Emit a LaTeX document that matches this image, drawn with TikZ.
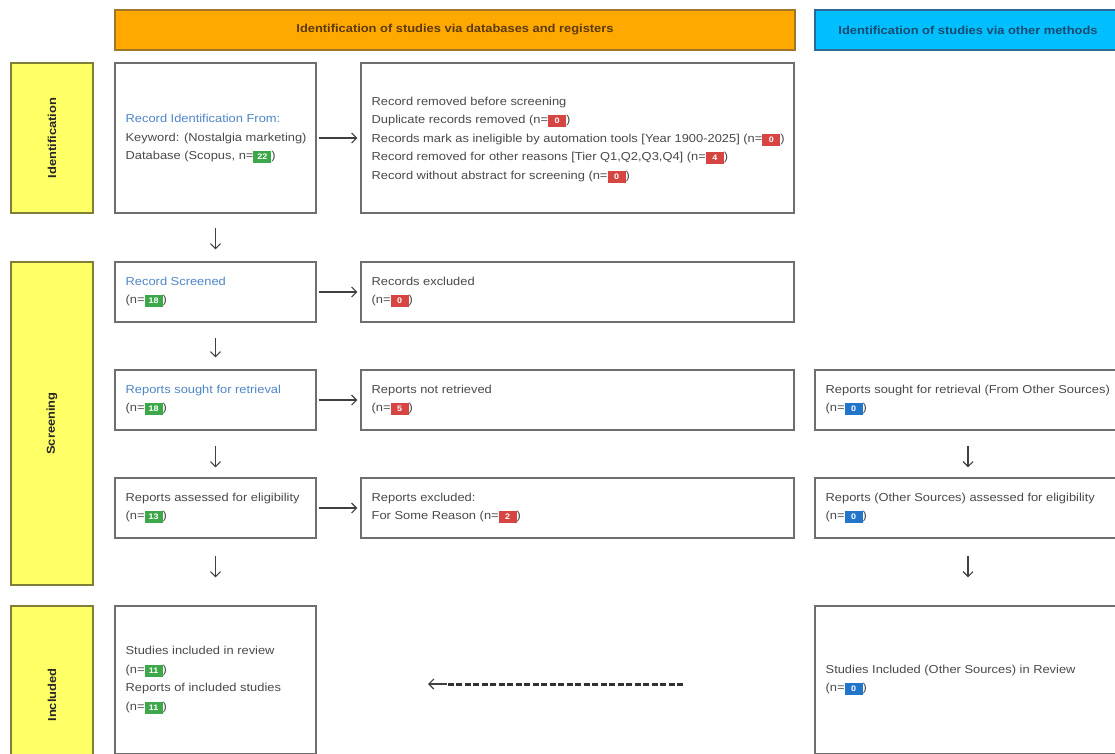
\documentclass[tikz,border=0pt]{standalone}
\usepackage{fontspec}
\setmainfont{Liberation Sans}[FakeStretch=1.12]
\usetikzlibrary{arrows.meta}
\definecolor{txt}{HTML}{4A4A4A}
\definecolor{blu}{HTML}{4F86C6}
\definecolor{bgreen}{HTML}{3DA84A}
\definecolor{bred}{HTML}{D64541}
\definecolor{bblue}{HTML}{2275C8}
\definecolor{orng}{HTML}{FFA800}
\definecolor{orngd}{HTML}{A0762A}
\definecolor{orngt}{HTML}{5A3A10}
\definecolor{sky}{HTML}{00BFFF}
\definecolor{skyd}{HTML}{2A6A9A}
\definecolor{skyt}{HTML}{1A4A70}
\definecolor{yel}{HTML}{FFFF66}
\definecolor{yeld}{HTML}{7F7F3A}
\definecolor{edge}{HTML}{6E6E6E}
\newcommand\nb[2]{{\setlength\fboxsep{2pt}\colorbox{#1}{\makebox[14pt]{\color{white}\bfseries\fontsize{8}{8}\selectfont\rule[-1.5pt]{0pt}{8pt}#2}}}}
\tikzset{
  box/.style={draw=edge, line width=1.1pt, fill=white, inner sep=0pt},
  btext/.style={anchor=west, inner sep=0pt, align=left,
    font=\fontsize{11.5}{18.5}\selectfont, text=txt},
  hdr/.style={line width=1.3pt, inner sep=0pt, font=\bfseries\fontsize{11.5}{13}\selectfont},
  side/.style={draw=yeld, fill=yel, line width=1.3pt, rotate=90, minimum height=82pt,
    inner sep=0pt, font=\bfseries\fontsize{11.5}{13}\selectfont, text=black!85},
  arr/.style={draw=black!75, line width=1.2pt, -{Straight Barb[length=5pt,width=10pt]}},
}
\begin{document}
\begin{tikzpicture}[x=1pt,y=-1pt]
\useasboundingbox (0,0) rectangle (1115,753);
\clip (0,0) rectangle (1115,753);
% headers
\node[hdr, draw=orngd, fill=orng, text=orngt, minimum width=680pt, minimum height=40pt] (h1) at (455,30) {Identification of studies via databases and registers};
\node[hdr, draw=skyd, fill=sky, text=skyt, minimum width=306pt, minimum height=40pt] (h2) at (968,30) {Identification of studies via other methods};
% side bars
\node[side, minimum width=150pt] (sid1) at (52,138) {Identification};
\node[side, minimum width=323pt] (sid2) at (52,423.5) {Screening};
\node[side, minimum width=178pt] (sid3) at (52,695) {Included};
% boxes
\node[box, minimum width=201pt, minimum height=150pt] (b1) at (215.5,138) {};
\node[box, minimum width=433pt, minimum height=150pt] (b2) at (577.5,138) {};
\node[box, minimum width=201pt, minimum height=60pt] (s1) at (215.5,292) {};
\node[box, minimum width=433pt, minimum height=60pt] (s2) at (577.5,292) {};
\node[box, minimum width=201pt, minimum height=60pt] (r1) at (215.5,400) {};
\node[box, minimum width=433pt, minimum height=60pt] (r2) at (577.5,400) {};
\node[box, minimum width=306pt, minimum height=60pt] (r3) at (968,400) {};
\node[box, minimum width=201pt, minimum height=60pt] (a1) at (215.5,508) {};
\node[box, minimum width=433pt, minimum height=60pt] (a2) at (577.5,508) {};
\node[box, minimum width=306pt, minimum height=60pt] (a3) at (968,508) {};
\node[box, minimum width=201pt, minimum height=148pt] (i1) at (215.5,680) {};
\node[box, minimum width=306pt, minimum height=148pt] (i3) at (968,680) {};
% texts
\node[btext] (tb1) at ([xshift=11pt,yshift=-1pt]b1.west)
  {{\color{blu}Record Identification From:}\\Keyword: (Nostalgia marketing)\\Database (Scopus, n=\nb{bgreen}{22})};
\node[btext] (tb2) at ([xshift=11pt,yshift=-2pt]b2.west)
  {Record removed before screening\\Duplicate records removed (n=\nb{bred}{0})\\Records mark as ineligible by automation tools [Year 1900-2025] (n=\nb{bred}{0})\\Record removed for other reasons [Tier Q1,Q2,Q3,Q4] (n=\nb{bred}{4})\\Record without abstract for screening (n=\nb{bred}{0})};
\node[btext] (ts1) at ([xshift=11pt]s1.west) {{\color{blu}Record Screened}\\(n=\nb{bgreen}{18})};
\node[btext] (ts2) at ([xshift=11pt]s2.west) {Records excluded\\(n=\nb{bred}{0})};
\node[btext] (tr1) at ([xshift=11pt]r1.west) {{\color{blu}Reports sought for retrieval}\\(n=\nb{bgreen}{18})};
\node[btext] (tr2) at ([xshift=11pt]r2.west) {Reports not retrieved\\(n=\nb{bred}{5})};
\node[btext] (tr3) at ([xshift=11pt]r3.west) {Reports sought for retrieval (From Other Sources)\\(n=\nb{bblue}{0})};
\node[btext] (ta1) at ([xshift=11pt]a1.west) {Reports assessed for eligibility\\(n=\nb{bgreen}{13})};
\node[btext] (ta2) at ([xshift=11pt]a2.west) {Reports excluded:\\For Some Reason (n=\nb{bred}{2})};
\node[btext] (ta3) at ([xshift=11pt]a3.west) {Reports (Other Sources) assessed for eligibility\\(n=\nb{bblue}{0})};
\node[btext] (ti1) at ([xshift=11pt]i1.west)
  {Studies included in review\\(n=\nb{bgreen}{11})\\Reports of included studies\\(n=\nb{bgreen}{11})};
\node[btext] (ti3) at ([xshift=11pt]i3.west) {Studies Included (Other Sources) in Review\\(n=\nb{bblue}{0})};
% arrows
\draw[arr] ([xshift=2pt]b1.east) -- ([xshift=-3pt]b2.west);
\draw[arr] ([xshift=2pt]s1.east) -- ([xshift=-3pt]s2.west);
\draw[arr] ([xshift=2pt]r1.east) -- ([xshift=-3pt]r2.west);
\draw[arr] ([xshift=2pt]a1.east) -- ([xshift=-3pt]a2.west);
\draw[arr] ([yshift=-14pt]b1.south) -- ([yshift=12pt]s1.north);
\draw[arr] ([yshift=-15pt]s1.south) -- ([yshift=12pt]r1.north);
\draw[arr] ([yshift=-15pt]r1.south) -- ([yshift=10pt]a1.north);
\draw[arr] ([yshift=-17pt]a1.south) -- ([yshift=28pt]i1.north);
\draw[arr] ([yshift=-15pt]r3.south) -- ([yshift=10pt]a3.north);
\draw[arr] ([yshift=-17pt]a3.south) -- ([yshift=28pt]i3.north);
\coordinate (ds) at (683,684);
\coordinate (de) at (428,684);
\draw[draw=black!80, line width=3pt, dash pattern=on 6pt off 2.5pt] (ds) -- ([xshift=18pt]de);
\draw[arr] ([xshift=19pt]de) -- (de);
\end{tikzpicture}
\end{document}
